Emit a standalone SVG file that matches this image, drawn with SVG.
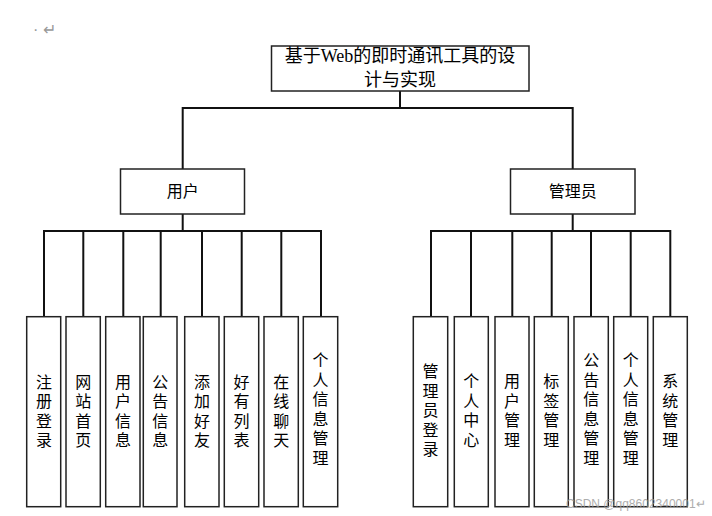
<svg xmlns="http://www.w3.org/2000/svg" width="712" height="516" viewBox="0 0 712 516">
<style>
.box{fill:#fff;stroke:#222;stroke-width:1.5}
.ln{fill:none;stroke:#111;stroke-width:2}
.t{font-family:"Noto Sans CJK SC","Liberation Sans",sans-serif;font-size:16px;fill:#000;text-anchor:middle}
.tt{font-family:"Liberation Serif","Noto Sans CJK SC",serif;font-size:18px;fill:#000;text-anchor:middle}
.mark{font-family:"Liberation Sans","Noto Sans CJK SC",sans-serif;fill:#999}
</style>
<rect width="712" height="516" fill="#fff"/>
<text class="mark" x="33" y="35" font-size="16">· ↵</text>
<g id="connectors">
<path class="ln" d="M400 91V108M182.7 108H572.7M182.7 107V169M572.7 107V169"/>
<path class="ln" d="M182.7 214V231M44 231H321M44 230V317M83.3 230V317M123.3 230V317M160.7 230V317M202 230V317M241.7 230V317M281.3 230V317M321 230V317"/>
<path class="ln" d="M572.7 214V231M431 231H670.3M431 230V317M471 230V317M512.3 230V317M551.7 230V317M591 230V317M630.7 230V317M670.3 230V317"/>
</g>
<g id="root">
<rect class="box" x="271.5" y="46" width="257.5" height="45"/>
<text class="tt" x="400" y="62">基于Web的即时通讯工具的设</text>
<text class="tt" x="400" y="86">计与实现</text>
</g>
<g id="user">
<rect class="box" x="120.5" y="169" width="124" height="45"/>
<text class="t" x="182.7" y="197">用户</text>
</g>
<g id="admin">
<rect class="box" x="510.5" y="169" width="124.5" height="45"/>
<text class="t" x="572.7" y="197">管理员</text>
</g>
<g id="u1"><rect class="box" x="26.7" y="316.7" width="34" height="190"/><text class="t" x="44"><tspan x="44" y="388">注</tspan><tspan x="44" dy="19.3">册</tspan><tspan x="44" dy="19.3">登</tspan><tspan x="44" dy="19.3">录</tspan></text></g>
<g id="u2"><rect class="box" x="66" y="316.7" width="34.3" height="190"/><text class="t"><tspan x="83.3" y="388">网</tspan><tspan x="83.3" dy="19.3">站</tspan><tspan x="83.3" dy="19.3">首</tspan><tspan x="83.3" dy="19.3">页</tspan></text></g>
<g id="u3"><rect class="box" x="105.7" y="316.7" width="34.3" height="190"/><text class="t"><tspan x="123" y="388">用</tspan><tspan x="123" dy="19.3">户</tspan><tspan x="123" dy="19.3">信</tspan><tspan x="123" dy="19.3">息</tspan></text></g>
<g id="u4"><rect class="box" x="143.3" y="316.7" width="33.7" height="190"/><text class="t"><tspan x="160.2" y="388">公</tspan><tspan x="160.2" dy="19.3">告</tspan><tspan x="160.2" dy="19.3">信</tspan><tspan x="160.2" dy="19.3">息</tspan></text></g>
<g id="u5"><rect class="box" x="184.7" y="316.7" width="34.3" height="190"/><text class="t"><tspan x="202" y="388">添</tspan><tspan x="202" dy="19.3">加</tspan><tspan x="202" dy="19.3">好</tspan><tspan x="202" dy="19.3">友</tspan></text></g>
<g id="u6"><rect class="box" x="224.3" y="316.7" width="34.4" height="190"/><text class="t"><tspan x="241.5" y="388">好</tspan><tspan x="241.5" dy="19.3">有</tspan><tspan x="241.5" dy="19.3">列</tspan><tspan x="241.5" dy="19.3">表</tspan></text></g>
<g id="u7"><rect class="box" x="264" y="316.7" width="34.3" height="190"/><text class="t"><tspan x="281.2" y="388">在</tspan><tspan x="281.2" dy="19.3">线</tspan><tspan x="281.2" dy="19.3">聊</tspan><tspan x="281.2" dy="19.3">天</tspan></text></g>
<g id="u8"><rect class="box" x="303.3" y="316.7" width="34.4" height="190"/><text class="t"><tspan x="320.5" y="366">个</tspan><tspan x="320.5" dy="19.5">人</tspan><tspan x="320.5" dy="19.5">信</tspan><tspan x="320.5" dy="19.5">息</tspan><tspan x="320.5" dy="19.5">管</tspan><tspan x="320.5" dy="19.5">理</tspan></text></g>
<g id="a1"><rect class="box" x="413.3" y="316.7" width="34.4" height="190"/><text class="t"><tspan x="430.5" y="377">管</tspan><tspan x="430.5" dy="19.5">理</tspan><tspan x="430.5" dy="19.5">员</tspan><tspan x="430.5" dy="19.5">登</tspan><tspan x="430.5" dy="19.5">录</tspan></text></g>
<g id="a2"><rect class="box" x="454.3" y="316.7" width="34" height="190"/><text class="t"><tspan x="471.3" y="387">个</tspan><tspan x="471.3" dy="19.5">人</tspan><tspan x="471.3" dy="19.5">中</tspan><tspan x="471.3" dy="19.5">心</tspan></text></g>
<g id="a3"><rect class="box" x="495" y="316.7" width="34" height="190"/><text class="t"><tspan x="512" y="387">用</tspan><tspan x="512" dy="19.5">户</tspan><tspan x="512" dy="19.5">管</tspan><tspan x="512" dy="19.5">理</tspan></text></g>
<g id="a4"><rect class="box" x="534.3" y="316.7" width="34" height="190"/><text class="t"><tspan x="551.3" y="387">标</tspan><tspan x="551.3" dy="19.5">签</tspan><tspan x="551.3" dy="19.5">管</tspan><tspan x="551.3" dy="19.5">理</tspan></text></g>
<g id="a5"><rect class="box" x="574" y="316.7" width="34.3" height="190"/><text class="t"><tspan x="591.2" y="366">公</tspan><tspan x="591.2" dy="19.5">告</tspan><tspan x="591.2" dy="19.5">信</tspan><tspan x="591.2" dy="19.5">息</tspan><tspan x="591.2" dy="19.5">管</tspan><tspan x="591.2" dy="19.5">理</tspan></text></g>
<g id="a6"><rect class="box" x="613.7" y="316.7" width="34" height="190"/><text class="t"><tspan x="630.7" y="366">个</tspan><tspan x="630.7" dy="19.5">人</tspan><tspan x="630.7" dy="19.5">信</tspan><tspan x="630.7" dy="19.5">息</tspan><tspan x="630.7" dy="19.5">管</tspan><tspan x="630.7" dy="19.5">理</tspan></text></g>
<g id="a7"><rect class="box" x="653.3" y="316.7" width="34" height="190"/><text class="t"><tspan x="670.3" y="387">系</tspan><tspan x="670.3" dy="19.5">统</tspan><tspan x="670.3" dy="19.5">管</tspan><tspan x="670.3" dy="19.5">理</tspan></text></g>
<text class="mark" x="566" y="508" font-size="12" opacity="0.8">CSDN @qq8602340001↵</text>
</svg>
